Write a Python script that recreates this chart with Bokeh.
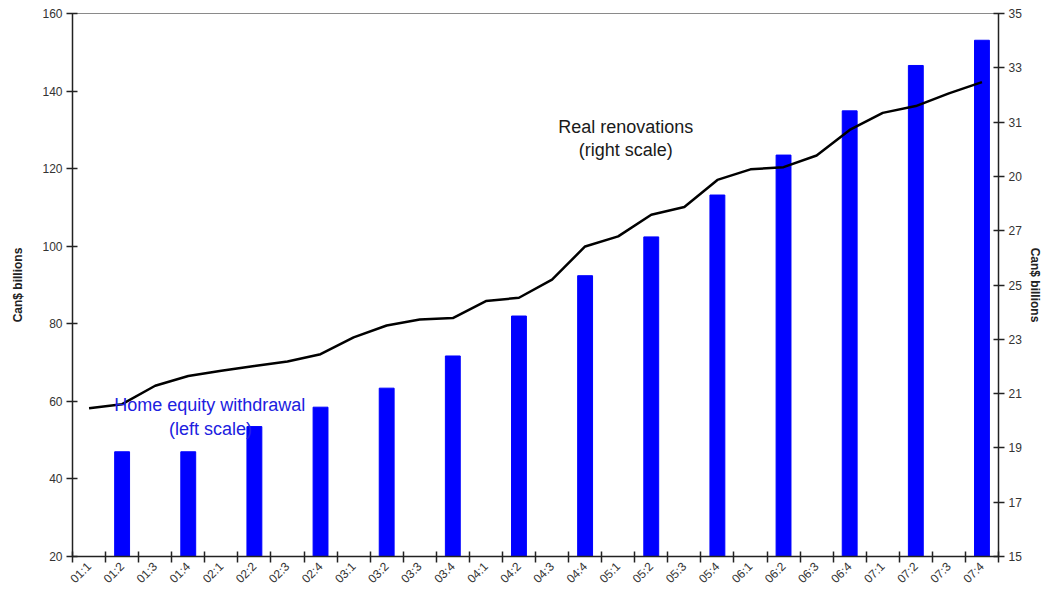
import math
from bokeh.plotting import figure
from bokeh.models import Range1d, LinearAxis, FixedTicker, ColumnDataSource
from bokeh.core.properties import value
from bokeh.embed import file_html
from bokeh.resources import INLINE

# ---- data ----
quarters = ["01:1", "01:2", "01:3", "01:4", "02:1", "02:2", "02:3", "02:4",
            "03:1", "03:2", "03:3", "03:4", "04:1", "04:2", "04:3", "04:4",
            "05:1", "05:2", "05:3", "05:4", "06:1", "06:2", "06:3", "06:4",
            "07:1", "07:2", "07:3", "07:4"]

# Real renovations (right scale), quarterly
renovations = [20.46, 20.61, 21.29, 21.65, 21.84, 22.02, 22.18, 22.45,
               23.07, 23.51, 23.73, 23.78, 24.41, 24.53, 25.20, 26.42,
               26.79, 27.59, 27.87, 28.87, 29.26, 29.34, 29.77, 30.71,
               31.34, 31.59, 32.06, 32.47]

# Home equity withdrawal (left scale), semi-annual
equity_quarters = ["01:2", "01:4", "02:2", "02:4", "03:2", "03:4", "04:2",
                   "04:4", "05:2", "05:4", "06:2", "06:4", "07:2", "07:4"]
equity_values = [47.0, 47.0, 53.5, 58.5, 63.4, 71.7, 82.0,
                 92.4, 102.4, 113.2, 123.5, 134.9, 146.6, 153.1]

left_ticks = [20, 40, 60, 80, 100, 120, 140, 160]
right_ticks = [15, 17, 19, 21, 23, 25, 27, 29, 31, 33, 35]
right_tick_labels = ["15", "17", "19", "21", "23", "25", "27", "20", "31", "33", "35"]

FONT = "Liberation Sans"

pos = {q: i + 1 for i, q in enumerate(quarters)}

p = figure(width=1044, height=593,
           x_range=Range1d(0.5, len(quarters) + 0.5),
           y_range=Range1d(20, 160),
           x_axis_location=None, y_axis_location=None,
           output_backend="svg", toolbar_location=None,
           min_border_left=72, min_border_right=40,
           min_border_top=13, min_border_bottom=35)
p.extra_y_ranges = {"right": Range1d(15, 35)}
p.grid.visible = False
p.background_fill_color = "white"
p.border_fill_color = "white"
p.outline_line_color = "#8a8a8a"
p.outline_line_width = 1

bar_src = ColumnDataSource(dict(x=[pos[q] for q in equity_quarters], top=equity_values))
p.vbar(x="x", top="top", bottom=20, width=0.45, source=bar_src,
       fill_color="#0000FF", line_color="#0000FF")

line_src = ColumnDataSource(dict(x=[pos[q] for q in quarters], y=renovations))
p.line(x="x", y="y", source=line_src, y_range_name="right",
       line_color="black", line_width=2.5)

# ---- axes ----
xaxis = LinearAxis(
    ticker=FixedTicker(ticks=[pos[q] for q in quarters],
                       minor_ticks=[i + 0.5 for i in range(len(quarters) + 1)]),
    major_label_overrides={pos[q]: q for q in quarters},
    major_label_orientation=math.pi / 4,
    major_tick_line_color=None, major_tick_in=0, major_tick_out=0,
    minor_tick_in=5, minor_tick_out=6, minor_tick_line_color="#222222",
    minor_tick_line_width=1.5,
    axis_line_color="#222222", axis_line_width=1.5,
    major_label_standoff=2,
    major_label_text_font=FONT, major_label_text_font_size="12px",
    major_label_text_color="#333333")
p.add_layout(xaxis, "below")

laxis = LinearAxis(
    ticker=FixedTicker(ticks=left_ticks),
    axis_label="Can$ billions", axis_label_text_font=FONT,
    axis_label_text_font_size="12px", axis_label_text_font_style="bold",
    axis_label_text_color="#222222", axis_label_standoff=14,
    major_tick_in=5, major_tick_out=6, minor_tick_line_color=None,
    major_tick_line_color="#222222", major_tick_line_width=1.5,
    axis_line_color="#222222", axis_line_width=1.5,
    major_label_standoff=4,
    major_label_text_font=FONT, major_label_text_font_size="12px",
    major_label_text_color="#333333")
p.add_layout(laxis, "left")

raxis = LinearAxis(
    y_range_name="right",
    ticker=FixedTicker(ticks=right_ticks),
    major_label_overrides={t: l for t, l in zip(right_ticks, right_tick_labels)},
    axis_label="Can$ billions", axis_label_text_font=FONT,
    axis_label_text_font_size="12px", axis_label_text_font_style="bold",
    axis_label_text_color="#222222", axis_label_standoff=3,
    major_tick_in=5, major_tick_out=6, minor_tick_line_color=None,
    major_tick_line_color="#222222", major_tick_line_width=1.5,
    axis_line_color="#222222", axis_line_width=1.5,
    major_label_standoff=4,
    major_label_text_font=FONT, major_label_text_font_size="12px",
    major_label_text_color="#333333")
p.add_layout(raxis, "right")

# ---- annotations ----
p.text(x=[4.65, 4.67], y=[59.0, 52.9],
       text=["Home equity withdrawal", "(left scale)"],
       text_font=value(FONT), text_font_size="18px", text_color="#2020e0",
       text_align="center", text_baseline="middle")
p.text(x=[17.23, 17.23], y=[130.7, 124.8],
       text=["Real renovations", "(right scale)"],
       text_font=value(FONT), text_font_size="18px", text_color="#1a1a1a",
       text_align="center", text_baseline="middle")

open("out.html", "w").write(file_html(p, INLINE))
